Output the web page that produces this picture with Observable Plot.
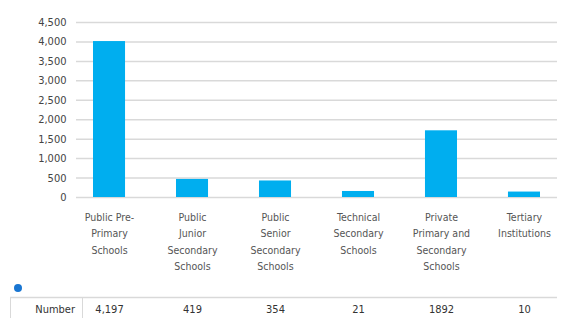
<!DOCTYPE html>
<html><head><meta charset="utf-8">
<script src="https://cdn.jsdelivr.net/npm/d3@7"></script>
<script src="https://cdn.jsdelivr.net/npm/@observablehq/plot@0.6"></script>
<style>
html,body{margin:0;padding:0;background:#fff;}
#chart{width:561px;height:318px;}
</style></head>
<body><div id="chart"></div>
<script>
const categories = ["Public Pre-\nPrimary\nSchools", "Public\nJunior\nSecondary\nSchools", "Public\nSenior\nSecondary\nSchools", "Technical\nSecondary\nSchools", "Private\nPrimary and\nSecondary\nSchools", "Tertiary\nInstitutions"];
const barValues = [4010, 465, 425, 155, 1715, 140];
const tableLabels = ["4,197", "419", "354", "21", "1892", "10"];
const rowLabel = "Number";
const yTicks = [0, 500, 1000, 1500, 2000, 2500, 3000, 3500, 4000, 4500];

const data = categories.map((c, i) => ({cat: c, value: barValues[i], label: tableLabels[i]}));
const font = "'DejaVu Sans Condensed', 'DejaVu Sans', sans-serif";

const chart = Plot.plot({
  width: 561, height: 318,
  marginTop: 22, marginBottom: 121, marginLeft: 76, marginRight: 4,
  style: {fontFamily: font, fontSize: "10.5px", color: "#444", background: "#fff"},
  x: {domain: categories, range: [93, 540], paddingInner: 0.614, paddingOuter: 0, round: false, label: null},
  y: {domain: [0, 4500], label: null},
  marks: [
    Plot.ruleY(yTicks, {stroke: "#d9d9d9", strokeWidth: 1.5}),
    Plot.barY(data, {x: "cat", y: "value", fill: "#00aeef"}),
    Plot.axisY({ticks: yTicks, tickSize: 0, tickPadding: 10, tickFormat: d3.format(","), label: null, fill: "#444", fontSize: 11}),
    Plot.axisX({tickSize: 0, tickPadding: 12, lineHeight: 1.55, label: null, fill: "#555"}),
    Plot.text(data, {x: "cat", y: () => 0, text: "label", dy: 112, fill: "#333", fontSize: 11})
  ]
});
document.getElementById("chart").append(chart);

// table decorations
const svg = d3.select(chart);
svg.append("circle").attr("cx", 18).attr("cy", 288).attr("r", 4).attr("fill", "#1976d2");
svg.append("line").attr("x1", 10).attr("x2", 557).attr("y1", 297.5).attr("y2", 297.5).attr("stroke", "#d9d9d9").attr("stroke-width", 1.5);
svg.append("line").attr("x1", 10.5).attr("x2", 10.5).attr("y1", 297).attr("y2", 318).attr("stroke", "#d9d9d9");
svg.append("line").attr("x1", 82.5).attr("x2", 82.5).attr("y1", 297).attr("y2", 318).attr("stroke", "#d9d9d9");
svg.append("text").attr("x", 75).attr("y", 309).attr("text-anchor", "end").attr("dy", "0.32em")
  .attr("fill", "#333").attr("font-size", 11).attr("font-family", font).text(rowLabel);
</script></body></html>
